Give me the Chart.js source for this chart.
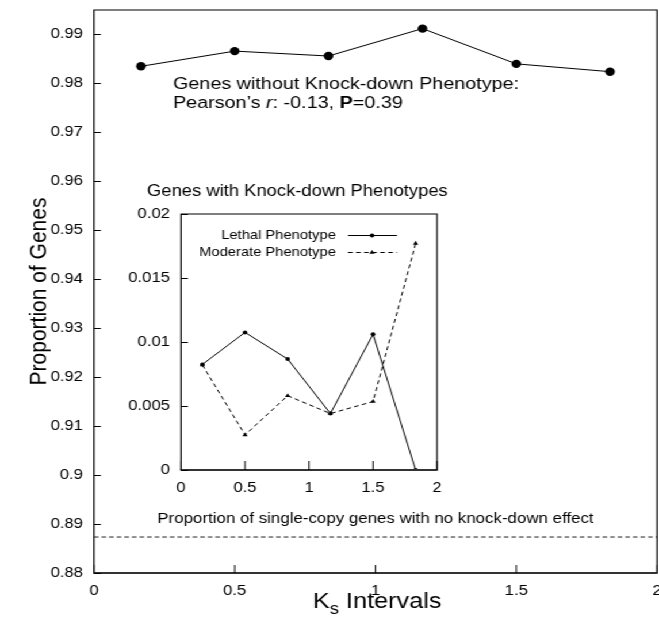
<!DOCTYPE html>
<html><head><meta charset="utf-8">
<script src="https://cdn.jsdelivr.net/npm/chart.js@4"></script>
<style>
html,body{margin:0;padding:0;background:#fff;overflow:hidden;width:659px;height:627px}
#wrap{position:absolute;left:0;top:0;width:573px;height:627px;transform:scaleX(1.1501);transform-origin:0 0}
#main{position:absolute;left:0;top:0}
#inset{position:absolute;left:100px;top:172px}
</style></head><body>
<div id="wrap"><canvas id="main" width="573" height="627"></canvas><canvas id="inset" width="300" height="330"></canvas></div>
<script>
// ---- data ----
const KS_INTERVALS = [0.167, 0.5, 0.833, 1.167, 1.5, 1.833];
const NO_KNOCKDOWN = [0.9835, 0.9866, 0.9856, 0.9912, 0.9840, 0.9824];
const LETHAL = [0.00825, 0.01075, 0.00867, 0.00441, 0.0106, 0.0];
const MODERATE = [0.0082, 0.00274, 0.0058, 0.00441, 0.00535, 0.0177];
const SINGLE_COPY_BASELINE = 0.88735;
const X_TICKS = [0, 0.5, 1, 1.5, 2];
const Y_TICKS = [0.88, 0.89, 0.9, 0.91, 0.92, 0.93, 0.94, 0.95, 0.96, 0.97, 0.98, 0.99];
const INSET_Y_TICKS = [0, 0.005, 0.01, 0.015, 0.02];
const SERIES_LABELS = ['Lethal Phenotype', 'Moderate Phenotype'];

const FONT = "'Liberation Sans', Arial, Helvetica, sans-serif";
const f = (size, style = '', weight = '') => `${style} ${weight} ${size}px ${FONT}`;

function drawRuns(ctx, x, y, runs) {
  let cx = x;
  runs.forEach(r => {
    ctx.font = r.font;
    ctx.fillText(r.text, cx, y + (r.dy || 0));
    cx += ctx.measureText(r.text).width;
  });
}
function setTicks(values) {
  return s => { s.ticks = values.map(v => ({ value: v })); };
}

// ---------------- main chart ----------------
const mainDecor = {
  id: 'mainDecor',
  afterDraw(chart) {
    const { ctx, chartArea: a, scales: { x, y } } = chart;
    ctx.save();
    ctx.strokeStyle = '#000'; ctx.lineWidth = 1.2;
    ctx.beginPath();
    ctx.moveTo(a.left, a.bottom); ctx.lineTo(a.left, a.top);
    ctx.lineTo(a.right, a.top); ctx.lineTo(a.right, a.bottom);
    ctx.stroke();
    ctx.strokeStyle = '#333'; ctx.lineWidth = 2;
    ctx.beginPath(); ctx.moveTo(a.left - 0.6, a.bottom); ctx.lineTo(a.right + 0.6, a.bottom); ctx.stroke();
    ctx.strokeStyle = '#000'; ctx.lineWidth = 1;
    Y_TICKS.forEach(v => {
      const py = Math.round(y.getPixelForValue(v)) + 0.5;
      ctx.beginPath(); ctx.moveTo(a.left, py); ctx.lineTo(a.left + 6, py); ctx.stroke();
    });
    X_TICKS.forEach(v => {
      const px = x.getPixelForValue(v);
      ctx.beginPath(); ctx.moveTo(px, a.bottom); ctx.lineTo(px, a.bottom - 8); ctx.stroke();
    });
    ctx.fillStyle = '#000';
    ctx.textBaseline = 'alphabetic';
    ctx.textAlign = 'left';
    // annotation
    ctx.font = f(17.2);
    ctx.fillText('Genes without Knock-down Phenotype:', 150.4, 89);
    drawRuns(ctx, 150.4, 108, [
      { text: 'Pearson\u2019s ', font: f(17.2) },
      { text: 'r', font: f(17.2, 'italic') },
      { text: ': -0.13, ', font: f(17.2) },
      { text: 'P', font: f(17.2, '', 'bold') },
      { text: '=0.39', font: f(17.2) }
    ]);
    // baseline label
    ctx.font = f(14.7);
    ctx.textAlign = 'center';
    ctx.fillText('Proportion of single-copy genes with no knock-down effect', x.getPixelForValue(1), 523);
    // x title with subscript
    ctx.textAlign = 'left';
    drawRuns(ctx, 272, 608, [
      { text: 'K', font: f(22) },
      { text: 's', font: f(16), dy: 6 },
      { text: ' Intervals', font: f(22) }
    ]);
    // y title
    ctx.save();
    ctx.translate(34.5, (a.top + a.bottom) / 2);
    ctx.rotate(-Math.PI / 2);
    ctx.textAlign = 'center'; ctx.textBaseline = 'middle';
    ctx.font = f(21);
    ctx.fillText('Proportion of Genes', 0, 0);
    ctx.restore();
    ctx.restore();
  }
};

new Chart(document.getElementById('main'), {
  type: 'line',
  data: {
    datasets: [
      {
        label: 'Genes without Knock-down Phenotype',
        data: KS_INTERVALS.map((k, i) => ({ x: k, y: NO_KNOCKDOWN[i] })),
        borderColor: '#000', borderWidth: 1, tension: 0,
        pointRadius: 4.2, pointBackgroundColor: '#000', pointBorderWidth: 0
      },
      {
        label: 'single-copy baseline',
        data: [{ x: 0, y: SINGLE_COPY_BASELINE }, { x: 2, y: SINGLE_COPY_BASELINE }],
        borderColor: '#222', borderWidth: 1, borderDash: [4, 2.6], pointRadius: 0
      }
    ]
  },
  options: {
    responsive: false, animation: false, devicePixelRatio: 1,
    layout: { autoPadding: false, padding: { top: 10, right: 1.7, left: 0, bottom: 0 } },
    plugins: { legend: { display: false }, tooltip: { enabled: false } },
    scales: {
      x: {
        type: 'linear', min: 0, max: 2,
        afterBuildTicks: setTicks(X_TICKS),
        afterFit: s => { s.height = 54; s.paddingLeft = 0; s.paddingRight = 0; },
        grid: { display: false, drawTicks: false }, border: { display: false },
        ticks: { color: '#000', font: { family: FONT, size: 14.5 }, padding: 9, maxRotation: 0, autoSkip: false, callback: v => String(v) }
      },
      y: {
        type: 'linear', min: 0.88, max: 0.995,
        afterBuildTicks: setTicks(Y_TICKS),
        afterFit: s => { s.width = 81.7; s.paddingTop = 0; s.paddingBottom = 0; },
        grid: { display: false, drawTicks: false }, border: { display: false },
        ticks: { color: '#000', font: { family: FONT, size: 14.5 }, padding: 9.6, autoSkip: false, callback: v => String(v) }
      }
    }
  },
  plugins: [mainDecor]
});

// ---------------- inset chart ----------------
const INSET_LEFT = 100, INSET_TOP = 172;
const insetDecor = {
  id: 'insetDecor',
  afterDraw(chart) {
    const { ctx, chartArea: a, scales: { x, y } } = chart;
    const ds = chart.data.datasets;
    ctx.save();
    ctx.strokeStyle = '#000'; ctx.lineWidth = 1.2;
    ctx.beginPath();
    ctx.moveTo(a.left, a.bottom); ctx.lineTo(a.left, a.top);
    ctx.lineTo(a.right, a.top); ctx.lineTo(a.right, a.bottom);
    ctx.stroke();
    ctx.strokeStyle = '#333'; ctx.lineWidth = 2;
    ctx.beginPath(); ctx.moveTo(a.left - 0.6, a.bottom); ctx.lineTo(a.right + 0.6, a.bottom); ctx.stroke();
    ctx.strokeStyle = '#000'; ctx.lineWidth = 1;
    INSET_Y_TICKS.forEach(v => {
      const py = Math.round(y.getPixelForValue(v)) + 0.5;
      ctx.beginPath(); ctx.moveTo(a.left, py); ctx.lineTo(a.left + 6, py); ctx.stroke();
    });
    X_TICKS.forEach(v => {
      const px = x.getPixelForValue(v);
      ctx.beginPath(); ctx.moveTo(px, a.bottom); ctx.lineTo(px, a.bottom - 9); ctx.stroke();
    });
    // title
    ctx.fillStyle = '#000';
    ctx.font = f(16);
    ctx.textAlign = 'left'; ctx.textBaseline = 'alphabetic';
    ctx.fillText('Genes with Knock-down Phenotypes', 127.8 - INSET_LEFT, 196 - INSET_TOP);
    // legend
    const rows = [235 - INSET_TOP, 252 - INSET_TOP];
    const textRight = 292 - INSET_LEFT, l0 = 302.6 - INSET_LEFT, l1 = 345.2 - INSET_LEFT, mk = 323.5 - INSET_LEFT;
    ctx.font = f(12.8);
    ctx.textAlign = 'right'; ctx.textBaseline = 'middle';
    SERIES_LABELS.forEach((lab, i) => {
      const ry = rows[i];
      ctx.fillStyle = '#000';
      ctx.fillText(lab, textRight, ry + 0.5);
      ctx.save();
      ctx.strokeStyle = '#000'; ctx.lineWidth = 1;
      ctx.setLineDash(ds[i].borderDash || []);
      ctx.beginPath(); ctx.moveTo(l0, ry + 0.5); ctx.lineTo(l1, ry + 0.5); ctx.stroke();
      ctx.restore();
      ctx.fillStyle = '#000'; ctx.strokeStyle = '#000';
      Chart.helpers.drawPoint(ctx, { pointStyle: ds[i].pointStyle, radius: ds[i].pointRadius, borderWidth: 0, rotation: 0 }, mk, ry + 0.5);
    });
    ctx.restore();
  }
};

new Chart(document.getElementById('inset'), {
  type: 'line',
  data: {
    datasets: [
      {
        label: SERIES_LABELS[0],
        data: KS_INTERVALS.map((k, i) => ({ x: k, y: LETHAL[i] })),
        borderColor: '#000', borderWidth: 1, tension: 0,
        pointStyle: 'circle', pointRadius: 2, pointBackgroundColor: '#000', pointBorderWidth: 0
      },
      {
        label: SERIES_LABELS[1],
        data: KS_INTERVALS.map((k, i) => ({ x: k, y: MODERATE[i] })),
        borderColor: '#000', borderWidth: 1, borderDash: [4, 3], tension: 0,
        pointStyle: 'triangle', pointRadius: 2.6, pointBackgroundColor: '#000', pointBorderWidth: 0
      }
    ]
  },
  options: {
    responsive: false, animation: false, devicePixelRatio: 1,
    layout: { autoPadding: false, padding: { top: 42, right: 20, left: 0, bottom: 0 } },
    plugins: { legend: { display: false }, tooltip: { enabled: false } },
    scales: {
      x: {
        type: 'linear', min: 0, max: 2,
        afterBuildTicks: setTicks(X_TICKS),
        afterFit: s => { s.height = 32; s.paddingLeft = 0; s.paddingRight = 0; },
        grid: { display: false, drawTicks: false }, border: { display: false },
        ticks: { color: '#000', font: { family: FONT, size: 14.5 }, padding: 9, maxRotation: 0, autoSkip: false, callback: v => String(v) }
      },
      y: {
        type: 'linear', min: 0, max: 0.02,
        afterBuildTicks: setTicks(INSET_Y_TICKS),
        afterFit: s => { s.width = 57.4; s.paddingTop = 0; s.paddingBottom = 0; },
        grid: { display: false, drawTicks: false }, border: { display: false },
        ticks: { color: '#000', font: { family: FONT, size: 14.5 }, padding: 9.6, autoSkip: false, callback: v => String(v) }
      }
    }
  },
  plugins: [insetDecor]
});
</script>
</body></html>
